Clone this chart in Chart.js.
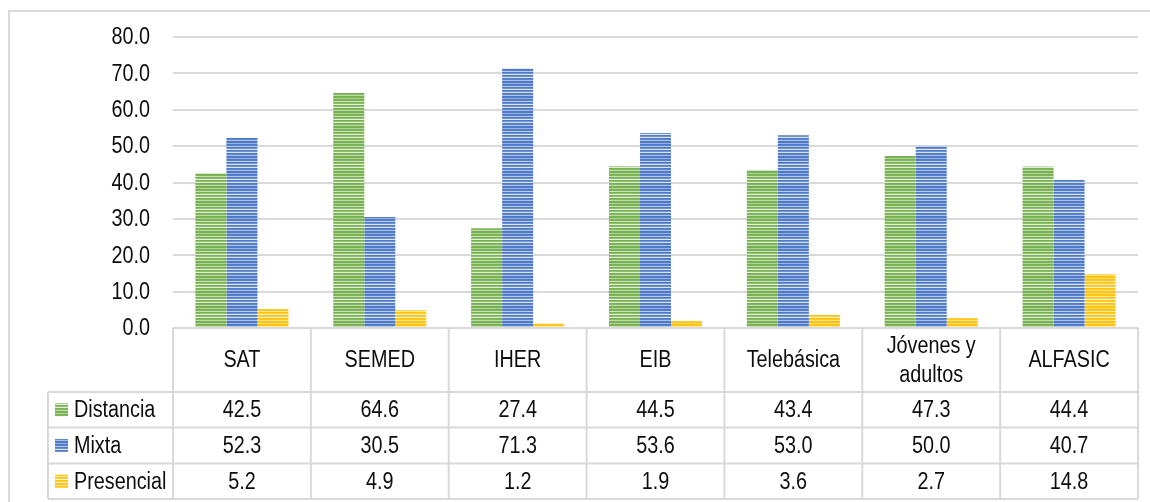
<!DOCTYPE html>
<html>
<head>
<meta charset="utf-8">
<script src="https://cdn.jsdelivr.net/npm/chart.js@4.4.1/dist/chart.umd.min.js"></script>
<style>
  body { margin: 0; background: #fff; }
  #wrap { width: 1150px; height: 502px; }
</style>
</head>
<body>
<div id="wrap"><canvas id="mycanvas" width="1150" height="502"></canvas></div>
<script>
// data
var categories = ['SAT', 'SEMED', 'IHER', 'EIB', 'Telebásica', ['Jóvenes y', 'adultos'], 'ALFASIC'];
var seriesNames = ['Distancia', 'Mixta', 'Presencial'];
var distancia = [42.5, 64.6, 27.4, 44.5, 43.4, 47.3, 44.4];
var mixta = [52.3, 30.5, 71.3, 53.6, 53.0, 50.0, 40.7];
var presencial = [5.2, 4.9, 1.2, 1.9, 3.6, 2.7, 14.8];
var yTicks = [0, 10, 20, 30, 40, 50, 60, 70, 80];

var FONT = '"Liberation Sans", Arial, sans-serif';
var GRID = '#d9d9d9';
var TXT = '#0d0d0d';
var SX = 0.86; // text in the picture is a bit squeezed sideways

// horizontal stripes like the excel fill
function stripes(dark) {
  var c = document.createElement('canvas');
  c.width = 4; c.height = 15;
  var g = c.getContext('2d');
  var r = parseInt(dark.substr(1, 2), 16), gg = parseInt(dark.substr(3, 2), 16), b = parseInt(dark.substr(5, 2), 16);
  for (var i = 0; i < 15; i++) {
    var t = 0.5 + 0.5 * Math.cos(2 * Math.PI * i / 15);
    var k = (i % 3 == 2) ? 0.45 + 0.4 * t : 0.05 + 0.2 * t * (i % 3);
    var rr = Math.round(r + (255 - r) * k), g2 = Math.round(gg + (255 - gg) * k), bb = Math.round(b + (255 - b) * k);
    g.fillStyle = 'rgb(' + rr + ',' + g2 + ',' + bb + ')';
    g.fillRect(0, i, 4, 1);
  }
  return g.createPattern(c, 'repeat');
}

function squeezedText(c, s, x, y) {
  c.save();
  c.translate(x, y);
  c.scale(SX, 1);
  c.fillText(s, 0, 0);
  c.restore();
}

var ctx = document.getElementById('mycanvas').getContext('2d');
var fills = [stripes('#70ad47'), stripes('#4472c4'), stripes('#ffc000')];
var values = [distancia, mixta, presencial];

var tablePlugin = {
  id: 'dataTable',
  afterDraw: function(chart) {
    var c = chart.ctx;
    var area = chart.chartArea;
    var x = chart.scales.x;
    var y = chart.scales.y;
    var n = categories.length;
    var w = (area.right - area.left) / n;
    var top = area.bottom;
    var rows = [top, 392, 427.5, 463.5, 499];
    var keyLeft = 48;
    c.save();
    // outer frame
    c.strokeStyle = GRID;
    c.lineWidth = 2;
    c.beginPath();
    c.moveTo(9, 502); c.lineTo(9, 11); c.lineTo(1150, 11);
    c.stroke();
    // table grid
    c.beginPath();
    c.moveTo(area.left, rows[0]); c.lineTo(area.right, rows[0]);
    for (var r = 1; r < rows.length; r++) {
      c.moveTo(keyLeft, rows[r]); c.lineTo(area.right, rows[r]);
    }
    for (var i = 0; i <= n; i++) {
      var xx = area.left + i * w;
      c.moveTo(xx, rows[0]); c.lineTo(xx, rows[4]);
    }
    c.moveTo(keyLeft, rows[1]); c.lineTo(keyLeft, rows[4]);
    c.stroke();

    c.fillStyle = TXT;
    c.font = '23px ' + FONT;
    c.textBaseline = 'middle';
    // y tick labels
    c.textAlign = 'right';
    yTicks.forEach(function(v) {
      squeezedText(c, v.toFixed(1), 150, y.getPixelForValue(v) + 1);
    });
    c.textAlign = 'center';
    for (var i = 0; i < n; i++) {
      var cx = x.getPixelForValue(i);
      var lab = categories[i];
      if (Array.isArray(lab)) {
        squeezedText(c, lab[0], cx, 347);
        squeezedText(c, lab[1], cx, 376);
      } else {
        squeezedText(c, lab, cx, 361);
      }
      for (var s = 0; s < 3; s++) {
        squeezedText(c, values[s][i].toFixed(1), cx, (rows[s + 1] + rows[s + 2]) / 2 + 1);
      }
    }
    c.textAlign = 'left';
    for (var s = 0; s < 3; s++) {
      var cy = (rows[s + 1] + rows[s + 2]) / 2;
      c.fillStyle = fills[s];
      c.fillRect(55, cy - 6.5, 13, 13);
      c.fillStyle = TXT;
      squeezedText(c, seriesNames[s], 74, cy + 1);
    }
    c.restore();
  }
};

var chartdata = {
  labels: categories,
  datasets: [
    { label: seriesNames[0], data: distancia, backgroundColor: fills[0] },
    { label: seriesNames[1], data: mixta, backgroundColor: fills[1] },
    { label: seriesNames[2], data: presencial, backgroundColor: fills[2] }
  ]
};

var BarGraph = new Chart(ctx, {
  type: 'bar',
  data: chartdata,
  plugins: [tablePlugin],
  options: {
    responsive: false,
    animation: false,
    devicePixelRatio: 1,
    layout: { padding: { left: 0, right: 12, top: 37, bottom: 174 } },
    datasets: { bar: { categoryPercentage: 0.675, barPercentage: 1.0 } },
    plugins: { legend: { display: false }, tooltip: { enabled: false } },
    scales: {
      x: { display: false },
      y: {
        min: 0, max: 80,
        afterFit: function(scale) { scale.width = 173; },
        afterBuildTicks: function(scale) { scale.ticks = yTicks.map(function(v) { return { value: v }; }); },
        border: { display: false },
        grid: { color: GRID, lineWidth: 2, drawTicks: false },
        ticks: { display: false }
      }
    }
  }
});
</script>
</body>
</html>
